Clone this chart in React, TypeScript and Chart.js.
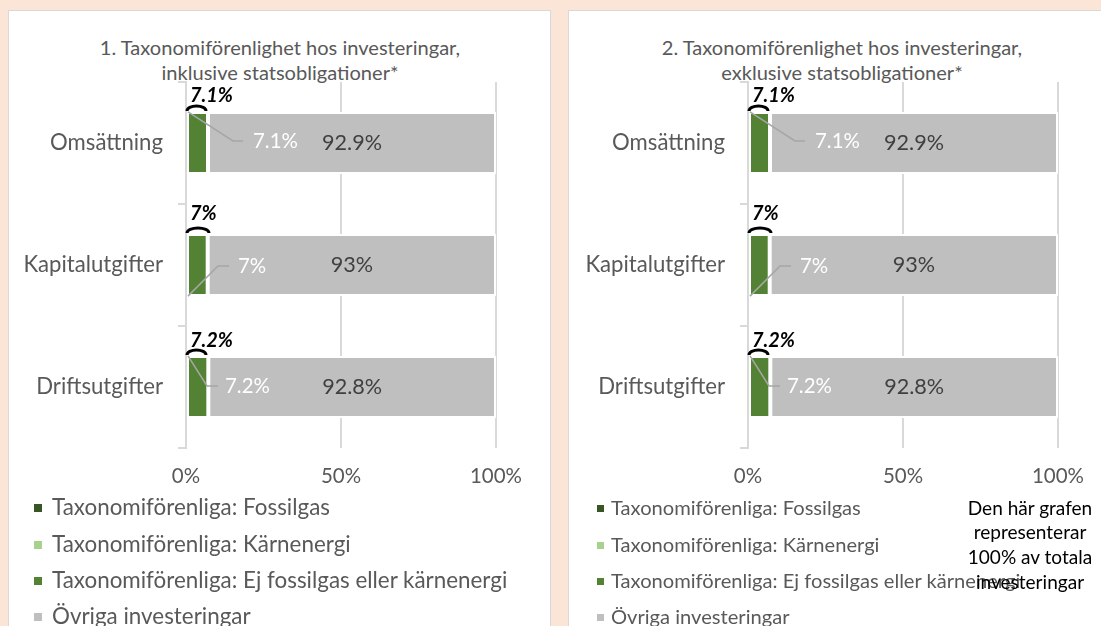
import React, { useEffect, useRef, useMemo } from "react";
import { Chart, registerables } from "chart.js";

Chart.register(...registerables);

// ---------- data ----------
const categories = ["Omsättning", "Kapitalutgifter", "Driftsutgifter"];
const seriesNames = [
  "Taxonomiförenliga: Fossilgas",
  "Taxonomiförenliga: Kärnenergi",
  "Taxonomiförenliga: Ej fossilgas eller kärnenergi",
  "Övriga investeringar",
];
const fossilgas1 = [0, 0, 0];
const karnenergi1 = [0, 0, 0];
const ejFossil1 = [7.1, 7, 7.2];
const ovriga1 = [92.9, 93, 92.8];
const fossilgas2 = [0, 0, 0];
const karnenergi2 = [0, 0, 0];
const ejFossil2 = [7.1, 7, 7.2];
const ovriga2 = [92.9, 93, 92.8];
const xTickValues = [0, 50, 100];
const title1 = ["1. Taxonomiförenlighet hos investeringar,", "inklusive statsobligationer*"];
const title2 = ["2. Taxonomiförenlighet hos investeringar,", "exklusive statsobligationer*"];
const noteLines = ["Den här grafen", "representerar", "100% av totala", "investeringar"];

// ---------- styles ----------
const FONT = "Lato, 'Open Sans', sans-serif";
const seriesColors = ["#375623", "#a9d18e", "#548235", "#bfbfbf"];
const TEXT_GRAY = "#595959";
const GRID = "#d9d9d9";

// callout geometry per category (pixel offsets relative to the green bar)
const calloutStyle = [
  { anchor: "top", knee: 46, end: 56, label: 66, dy: -2, boldDy: -16, rx: 9.5 },
  { anchor: "bottom", knee: 31, end: 42, label: 51, dy: 1, boldDy: -20, rx: 11 },
  { anchor: "top", knee: 20, end: 31, label: 38, dy: -1, boldDy: -15, rx: 9.5 },
];

const fmt = (v: number) => `${v}%`;

function fitSize(text: string, target: number, style = ""): number {
  const c = document.createElement("canvas").getContext("2d")!;
  c.font = `${style} 100px ${FONT}`;
  const w = c.measureText(text).width || 1;
  return (100 * target) / w;
}

type ChartProps = {
  left: number;
  top: number;
  width: number;
  height: number;
  axisLeft: number;
  padRight: number;
  data: number[][];
  fs: any;
};

function BarChart(props: ChartProps) {
  const ref = useRef<HTMLCanvasElement | null>(null);
  useEffect(() => {
    const fs = props.fs;
    const xAxisH = 40;
    const plotTop = 71;
    const plotBottom = 437;
    const calloutPlugin = {
      id: "callouts",
      afterDatasetsDraw(chart: any) {
        const ctx = chart.ctx;
        const greenMeta = chart.getDatasetMeta(2);
        const grayMeta = chart.getDatasetMeta(3);
        greenMeta.data.forEach((bar: any, i: number) => {
          const p = bar.getProps(["x", "y", "base", "height"], true);
          const left = Math.min(p.base, p.x);
          const top = p.y - p.height / 2;
          const bottom = p.y + p.height / 2;
          const st = calloutStyle[i];
          const txt = fmt(chart.data.datasets[2].data[i]);
          const ay = st.anchor === "top" ? top : bottom;
          const ky = p.y + st.dy;
          ctx.save();
          ctx.strokeStyle = "#a6a6a6";
          ctx.lineWidth = 1.5;
          ctx.beginPath();
          ctx.moveTo(left + 1, ay);
          ctx.lineTo(left + st.knee, ky);
          ctx.lineTo(left + st.end, ky);
          ctx.stroke();
          ctx.fillStyle = "#ffffff";
          ctx.font = `${fs.white}px ${FONT}`;
          ctx.textAlign = "left";
          ctx.textBaseline = "middle";
          ctx.fillText(txt, left + st.label, ky);
          ctx.strokeStyle = "#000000";
          ctx.lineWidth = 3;
          ctx.beginPath();
          ctx.ellipse(left + st.rx, top - 1, st.rx, 5, 0, Math.PI, 2 * Math.PI);
          ctx.stroke();
          ctx.fillStyle = "#000000";
          ctx.font = `italic bold ${fs.bold}px ${FONT}`;
          ctx.fillText(txt, left + 3, top + st.boldDy);
          ctx.restore();
        });
        grayMeta.data.forEach((bar: any, i: number) => {
          const p = bar.getProps(["x", "y", "base"], true);
          ctx.save();
          ctx.fillStyle = "#404040";
          ctx.font = `${fs.gray}px ${FONT}`;
          ctx.textAlign = "center";
          ctx.textBaseline = "middle";
          ctx.fillText(fmt(chart.data.datasets[3].data[i]), (p.x + p.base) / 2, p.y);
          ctx.restore();
        });
      },
    };
    const chart = new Chart(ref.current!, {
      type: "bar",
      data: {
        labels: categories,
        datasets: props.data.map((d, k) => ({
          label: seriesNames[k],
          data: d,
          backgroundColor: seriesColors[k],
          borderColor: "#ffffff",
          borderWidth: d.every((v) => v === 0) ? 0 : 2,
          borderSkipped: false,
          barPercentage: 0.51,
          categoryPercentage: 1,
        })),
      },
      options: {
        indexAxis: "y",
        animation: false,
        responsive: false,
        devicePixelRatio: 1,
        layout: {
          padding: {
            left: 0,
            right: props.padRight,
            top: plotTop,
            bottom: props.height - plotBottom - xAxisH,
          },
        },
        plugins: {
          legend: { display: false },
          title: { display: false },
          tooltip: { enabled: false },
        },
        scales: {
          x: {
            type: "linear",
            stacked: true,
            min: 0,
            max: 100,
            afterBuildTicks: (scale: any) => {
              scale.ticks = xTickValues.map((v) => ({ value: v }));
            },
            afterFit: (scale: any) => {
              scale.height = xAxisH;
            },
            grid: { color: GRID, lineWidth: 2, drawTicks: false },
            border: { display: false },
            ticks: {
              padding: 16.5,
              color: TEXT_GRAY,
              font: { family: FONT, size: fs.xtick },
              callback: (v: any) => `${v}%`,
            },
          },
          y: {
            type: "category",
            stacked: true,
            afterFit: (scale: any) => {
              scale.width = props.axisLeft;
            },
            grid: {
              drawOnChartArea: false,
              drawTicks: true,
              tickLength: 8,
              color: GRID,
              lineWidth: 2,
            },
            border: { display: true, color: GRID, width: 2 },
            ticks: {
              padding: 15,
              color: TEXT_GRAY,
              font: { family: FONT, size: fs.ylab },
            },
          },
        },
      },
      plugins: [calloutPlugin],
    } as any);
    return () => chart.destroy();
  }, []);
  return (
    <canvas
      ref={ref}
      width={props.width}
      height={props.height}
      style={{
        position: "absolute",
        left: props.left,
        top: props.top,
        width: props.width,
        height: props.height,
      }}
    />
  );
}

export default function App() {
  const fs = useMemo(
    () => ({
      title: fitSize(title1[0], 361),
      ylab: fitSize("Omsättning", 113),
      xtick: fitSize("100%", 52),
      gray: fitSize("92.9%", 60),
      white: fitSize("7.1%", 45),
      bold: fitSize("7.1%", 43, "italic bold"),
      legend1: fitSize(seriesNames[2], 456),
      legend2: fitSize(seriesNames[2], 410),
      note: fitSize(noteLines[0], 125),
    }),
    []
  );

  const titleBlock = (lines: string[], cx: number) => (
    <div
      style={{
        position: "absolute",
        left: cx - 260,
        width: 520,
        top: 47 - 12.5,
        textAlign: "center",
        lineHeight: "25px",
        fontSize: fs.title,
        fontFamily: FONT,
        color: TEXT_GRAY,
        whiteSpace: "nowrap",
      }}
    >
      {lines.map((l, i) => (
        <div key={i}>{l}</div>
      ))}
    </div>
  );

  const legendBlock = (x: number, rows: number[], sq: number, size: number, textX: number) =>
    seriesNames.map((name, k) => (
      <React.Fragment key={k}>
        <div
          style={{
            position: "absolute",
            left: x,
            top: rows[k] - sq / 2,
            width: sq,
            height: sq,
            background: seriesColors[k],
          }}
        />
        <div
          style={{
            position: "absolute",
            left: textX,
            top: rows[k] - 16,
            height: 30,
            lineHeight: "30px",
            fontSize: size,
            fontFamily: FONT,
            color: TEXT_GRAY,
            whiteSpace: "nowrap",
          }}
        >
          {name}
        </div>
      </React.Fragment>
    ));

  return (
    <div
      style={{
        position: "fixed",
        left: 0,
        top: 0,
        width: 1101,
        height: 626,
        overflow: "hidden",
        background: "#fbe5d6",
      }}
    >
      <div
        style={{
          position: "absolute",
          left: 8,
          top: 10,
          width: 543,
          height: 700,
          background: "#ffffff",
          border: "1px solid #d9d9d9",
          boxSizing: "border-box",
        }}
      />
      <div
        style={{
          position: "absolute",
          left: 568,
          top: 10,
          width: 600,
          height: 700,
          background: "#ffffff",
          border: "1px solid #d9d9d9",
          boxSizing: "border-box",
        }}
      />
      {titleBlock(title1, 280)}
      {titleBlock(title2, 842)}
      <BarChart
        left={9}
        top={11}
        width={540}
        height={490}
        axisLeft={177}
        padRight={53}
        data={[fossilgas1, karnenergi1, ejFossil1, ovriga1]}
        fs={fs}
      />
      <BarChart
        left={569}
        top={11}
        width={532}
        height={490}
        axisLeft={179}
        padRight={43}
        data={[fossilgas2, karnenergi2, ejFossil2, ovriga2]}
        fs={fs}
      />
      {legendBlock(34, [508, 545, 581, 617], 8, fs.legend1, 52)}
      {legendBlock(597, [508, 545, 581, 617], 7, fs.legend2, 611)}
      <div
        style={{
          position: "absolute",
          left: 1030 - 80,
          width: 160,
          top: 508 - 12.5,
          textAlign: "center",
          lineHeight: "24.7px",
          fontSize: fs.note,
          fontFamily: FONT,
          color: "#000000",
          whiteSpace: "nowrap",
        }}
      >
        {noteLines.map((l, i) => (
          <div key={i}>{l}</div>
        ))}
      </div>
    </div>
  );
}
